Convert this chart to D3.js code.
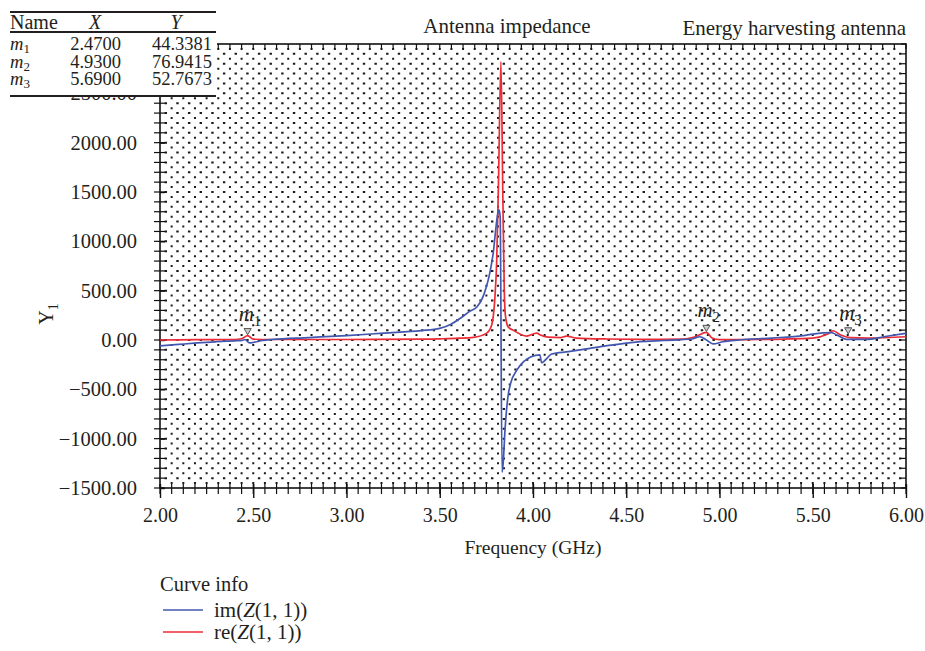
<!DOCTYPE html>
<html>
<head>
<meta charset="utf-8">
<script src="https://cdn.jsdelivr.net/npm/d3@7/dist/d3.min.js"></script>
<style>
  body { margin: 0; background: #fff; }
  svg text { font-family: "Liberation Serif", "DejaVu Serif", serif; fill: #231f20; }
</style>
</head>
<body>
<script>
// im(Z(1,1))
const imFreq = [2.00, 2.10, 2.20, 2.30, 2.40, 2.44, 2.455, 2.48, 2.50, 2.55, 2.60, 2.80, 3.00, 3.20, 3.40, 3.50,
  3.56, 3.61, 3.66, 3.70, 3.73, 3.75, 3.765, 3.778, 3.788, 3.796, 3.805, 3.812, 3.818, 3.824, 3.834, 3.84, 3.85,
  3.866, 3.88, 3.915, 3.95, 3.99, 4.037, 4.046, 4.07, 4.10, 4.19, 4.306, 4.43, 4.574, 4.70, 4.85, 4.895, 4.93,
  4.965, 5.02, 5.10, 5.28, 5.45, 5.50, 5.60, 5.63, 5.68, 5.79, 5.88, 6.00];
const imVals = [-60, -45, -30, -18, -8, -4, 5, -30, -25, -5, 5, 25, 45, 70, 95, 118,
  160, 220, 290, 337, 430, 540, 650, 776, 900, 1045, 1200, 1290, 1320, 1250, -1340, -1250, -910,
  -570, -440, -300, -220, -170, -150, -230, -195, -142, -118, -84, -50, -17, -5, 10, 33, 0,
  -40, -17, 0, 20, 45, 60, 74, 50, 7, 7, 33, 67];

// re(Z(1,1))
const reFreq = [2.00, 2.20, 2.40, 2.44, 2.47, 2.50, 2.60, 3.00, 3.40, 3.50, 3.60, 3.68, 3.75, 3.778, 3.796,
  3.805, 3.815, 3.828, 3.838, 3.846, 3.852, 3.866, 3.893, 3.966, 4.02, 4.04, 4.08, 4.15, 4.18, 4.23, 4.40,
  4.57, 4.80, 4.87, 4.93, 4.96, 5.00, 5.20, 5.50, 5.58, 5.61, 5.65, 5.70, 5.80, 6.00];
const reVals = [0, 3, 5, 15, 44, 8, 5, 5, 8, 12, 18, 27, 67, 150, 440,
  780, 1600, 2820, 1500, 500, 250, 135, 100, 40, 70, 50, 30, 25, 40, 20, 10,
  7, 8, 33, 77, 20, 3, 5, 20, 60, 94, 50, 25, 20, 33];

// marker table
const markerNames = ["1", "2", "3"];
const markerX = [2.47, 4.93, 5.69];
const markerY = [44.3381, 76.9415, 52.7673];

const xTicks = [2.0, 2.5, 3.0, 3.5, 4.0, 4.5, 5.0, 5.5, 6.0];
const yTicks = [-1500, -1000, -500, 0, 500, 1000, 1500, 2000, 2500, 3000];

const W = 925, H = 651;
const margin = { top: 44, right: 19, bottom: 163, left: 160 };
const width = W - margin.left - margin.right;
const height = H - margin.top - margin.bottom;

const svg = d3.select("body").append("svg")
  .attr("width", W)
  .attr("height", H);

const chart = svg.append("g")
  .attr("transform", `translate(${margin.left}, ${margin.top})`);

const x = d3.scaleLinear().domain([2, 6]).range([0, width]);
const y = d3.scaleLinear().domain([-1500, 3000]).range([height, 0]);

const xMinor = d3.range(0, 65).map(i => 2 + i * 0.0625);
const yMinor = d3.range(-1500, 3001, 100);
const colStep = x(2.0625) - x(2);
const rowStep = y(0) - y(100);

// dotted grid: dots between the minor lines, like the HFSS plot
chart.append("g")
  .selectAll("line")
  .data(xMinor.slice(1, -1))
  .enter().append("line")
  .attr("x1", d => x(d)).attr("x2", d => x(d))
  .attr("y1", 0).attr("y2", height)
  .attr("stroke", "#1a1a1a").attr("stroke-width", 2)
  .attr("stroke-dasharray", `2,${rowStep - 2}`)
  .attr("stroke-dashoffset", -(rowStep / 2 - 1));

chart.append("g")
  .selectAll("line")
  .data(yMinor.slice(1, -1))
  .enter().append("line")
  .attr("x1", 0).attr("x2", width)
  .attr("y1", d => y(d)).attr("y2", d => y(d))
  .attr("stroke", "#1a1a1a").attr("stroke-width", 2)
  .attr("stroke-dasharray", `2.4,${colStep - 2.4}`)
  .attr("stroke-dashoffset", -(colStep / 2 - 1.2));

// axes
const xAxis = d3.axisBottom(x).tickValues(xTicks).tickFormat(d3.format(".2f")).tickSize(10).tickPadding(10);
const gx = chart.append("g")
  .attr("transform", `translate(0, ${height})`)
  .call(xAxis);
gx.select(".domain").remove();
gx.selectAll(".tick line").attr("y1", -4).attr("stroke", "#111").attr("stroke-width", 1.4);
gx.selectAll(".tick text").style("font-size", "20px").attr("fill", "#231f20");

chart.append("g")
  .selectAll("line")
  .data(xMinor)
  .enter().append("line")
  .attr("x1", d => x(d)).attr("x2", d => x(d))
  .attr("y1", height - 4).attr("y2", height + 6)
  .attr("stroke", "#111").attr("stroke-width", 1.2);

const yAxis = d3.axisLeft(y).tickValues(yTicks).tickFormat(d => d3.format(".2f")(d).replace("-", "\u2212")).tickSize(13).tickPadding(10);
const gy = chart.append("g").call(yAxis);
gy.select(".domain").remove();
gy.selectAll(".tick line").attr("x2", 5).attr("stroke", "#111").attr("stroke-width", 1.4);
gy.selectAll(".tick text").style("font-size", "20.5px").attr("fill", "#231f20");

chart.append("g")
  .selectAll("line")
  .data(yMinor)
  .enter().append("line")
  .attr("x1", -6).attr("x2", 5)
  .attr("y1", d => y(d)).attr("y2", d => y(d))
  .attr("stroke", "#111").attr("stroke-width", 1.2);

// top and right border ticks
chart.append("g")
  .selectAll("line")
  .data(xMinor)
  .enter().append("line")
  .attr("x1", d => x(d)).attr("x2", d => x(d))
  .attr("y1", 0).attr("y2", 5)
  .attr("stroke", "#111").attr("stroke-width", 1.2);
chart.append("g")
  .selectAll("line")
  .data(yMinor)
  .enter().append("line")
  .attr("x1", width - 5).attr("x2", width)
  .attr("y1", d => y(d)).attr("y2", d => y(d))
  .attr("stroke", "#111").attr("stroke-width", 1.2);

chart.append("rect")
  .attr("x", 0).attr("y", 0)
  .attr("width", width).attr("height", height)
  .attr("fill", "none").attr("stroke", "#111").attr("stroke-width", 1.6);

// curves
const line = d3.line().x(d => x(d[0])).y(d => y(d[1])).curve(d3.curveMonotoneX);
chart.append("path")
  .datum(d3.zip(reFreq, reVals))
  .attr("d", line)
  .attr("fill", "none").attr("stroke", "#ec2b36").attr("stroke-width", 1.7);
chart.append("path")
  .datum(d3.zip(imFreq, imVals))
  .attr("d", line)
  .attr("fill", "none").attr("stroke", "#4257b0").attr("stroke-width", 1.7);

// markers
const mk = chart.append("g").selectAll("g")
  .data(markerNames.map((n, i) => ({ n, x: markerX[i], y: markerY[i] })))
  .enter().append("g")
  .attr("transform", d => `translate(${x(d.x)}, ${y(d.y)})`);
mk.append("path")
  .attr("d", d3.symbol(d3.symbolTriangle, 22))
  .attr("transform", "translate(0,-5) rotate(180)")
  .attr("fill", "#ccc").attr("stroke", "#444").attr("stroke-width", 0.9);
const mt = mk.append("text")
  .attr("x", -9).attr("y", -15)
  .style("font-size", "21px").style("font-style", "italic")
  .attr("fill", "#27358a");
mt.append("tspan").text("m");
mt.append("tspan").attr("dy", 5).style("font-size", "15px").style("font-style", "normal").text(d => d.n);

// titles
svg.append("text").attr("x", 507).attr("y", 33).attr("text-anchor", "middle")
  .style("font-size", "21px").text("Antenna impedance");
svg.append("text").attr("x", 906).attr("y", 35).attr("text-anchor", "end")
  .style("font-size", "21px").text("Energy harvesting antenna");

// axis titles
svg.append("text").attr("x", margin.left + width / 2).attr("y", 554).attr("text-anchor", "middle")
  .style("font-size", "19.5px").text("Frequency (GHz)");
const yl = svg.append("text").attr("transform", "translate(53, 314) rotate(-90)")
  .attr("text-anchor", "middle").style("font-size", "20px");
yl.append("tspan").text("Y");
yl.append("tspan").attr("dy", 5).style("font-size", "14px").text("1");

// marker table
const tbl = svg.append("g");
tbl.append("rect").attr("x", 0).attr("y", 0).attr("width", 217).attr("height", 96).attr("fill", "#fff");
[12, 32, 96].forEach(yy => tbl.append("line").attr("x1", 10).attr("x2", 216)
  .attr("y1", yy).attr("y2", yy).attr("stroke", "#231f20").attr("stroke-width", 1.8));
tbl.append("text").attr("x", 10).attr("y", 29).style("font-size", "20px").text("Name");
tbl.append("text").attr("x", 95).attr("y", 29).attr("text-anchor", "middle").style("font-size", "20px").style("font-style", "italic").text("X");
tbl.append("text").attr("x", 176).attr("y", 29).attr("text-anchor", "middle").style("font-size", "20px").style("font-style", "italic").text("Y");
markerNames.forEach((n, i) => {
  const ry = 50 + i * 17.5;
  const t = tbl.append("text").attr("x", 10).attr("y", ry).style("font-size", "18.5px").style("font-style", "italic");
  t.append("tspan").text("m");
  t.append("tspan").attr("dy", 3).style("font-size", "13px").style("font-style", "normal").text(n);
  tbl.append("text").attr("x", 121).attr("y", ry).attr("text-anchor", "end").style("font-size", "18.5px").text(d3.format(".4f")(markerX[i]));
  tbl.append("text").attr("x", 212).attr("y", ry).attr("text-anchor", "end").style("font-size", "18.5px").text(d3.format(".4f")(markerY[i]));
});

// legend
const lg = svg.append("g");
lg.append("text").attr("x", 160).attr("y", 591).style("font-size", "20.5px").text("Curve info");
const legendNames = ["im", "re"];
const legendColors = ["#4257b0", "#ec2b36"];
legendNames.forEach((n, i) => {
  const ly = 610 + i * 22;
  lg.append("line").attr("x1", 163).attr("x2", 203).attr("y1", ly).attr("y2", ly)
    .attr("stroke", legendColors[i]).attr("stroke-width", 1.7);
  const t = lg.append("text").attr("x", 214).attr("y", ly + 7).style("font-size", "21px");
  t.append("tspan").text(n + "(");
  t.append("tspan").style("font-style", "italic").text("Z");
  t.append("tspan").text("(1, 1))");
});
</script>
</body>
</html>
